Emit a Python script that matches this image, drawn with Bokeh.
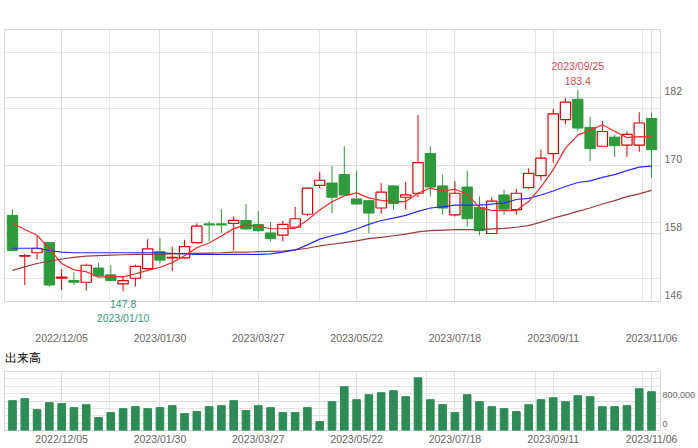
import pandas as pd
from bokeh.plotting import figure
from bokeh.layouts import column
from bokeh.models import (ColumnDataSource, FixedTicker, Range1d, Label, LinearAxis,
                          Grid, NumeralTickFormatter)
from bokeh.embed import file_html
from bokeh.resources import INLINE

# ---------------- data ----------------
first_week = "2022-11-07"

opens = [161.2, 154.0, 154.6, 156.4, 150.1, 149.7, 149.4, 151.9, 150.7, 149.1,
         150.1, 151.8, 154.8, 153.7, 153.7, 156.4, 159.7, 159.7, 159.8, 160.3,
         159.6, 158.1, 157.7, 159.1, 161.4, 166.5, 166.9, 168.4, 164.1, 163.8,
         162.5, 166.4, 164.4, 165.1, 172.1, 166.4, 161.3, 166.2, 162.6, 158.0,
         164.8, 162.2, 166.1, 168.2, 172.1, 178.1, 181.7, 176.7, 173.4, 175.0,
         173.6, 173.6, 178.3]
highs = [162.2, 154.4, 157.5, 156.5, 151.7, 151.1, 152.7, 152.8, 152.4, 150.5,
         152.5, 157.0, 157.2, 155.7, 156.9, 159.8, 160.2, 162.3, 161.0, 163.2,
         162.0, 160.0, 160.2, 162.7, 166.1, 168.9, 169.9, 173.4, 169.1, 163.9,
         166.9, 166.5, 167.1, 178.9, 173.4, 168.4, 167.2, 169.1, 164.5, 164.4,
         165.7, 165.9, 169.5, 172.8, 180.0, 181.9, 183.4, 178.6, 177.9, 175.4,
         176.0, 179.4, 179.3]
lows = [154.9, 148.9, 153.4, 148.6, 148.0, 148.9, 147.9, 150.4, 149.6, 147.8,
        148.6, 151.5, 152.7, 151.4, 153.6, 156.2, 156.6, 158.1, 155.0, 158.7,
        158.3, 156.6, 156.6, 158.9, 161.1, 166.0, 161.6, 164.7, 163.1, 158.0,
        161.5, 162.2, 162.2, 164.4, 164.5, 161.3, 161.0, 159.2, 157.7, 157.9,
        161.3, 161.3, 165.8, 167.4, 170.5, 177.3, 176.1, 170.8, 173.3, 171.5,
        171.5, 172.4, 167.9]
closes = [155.0, 154.1, 155.4, 148.9, 150.3, 149.4, 152.4, 150.5, 149.7, 149.7,
          152.2, 155.3, 153.3, 153.8, 155.7, 159.3, 159.5, 159.5, 160.3, 158.8,
          158.5, 157.1, 159.6, 160.6, 166.0, 167.4, 164.4, 164.8, 163.2, 161.6,
          165.3, 163.3, 164.8, 170.5, 166.2, 162.5, 165.1, 160.6, 158.5, 163.7,
          162.3, 165.1, 168.6, 171.3, 179.1, 181.2, 176.6, 173.0, 176.0, 173.5,
          175.5, 177.5, 172.8]

ma_short = [159.8, 158.7, 157.7, 155.3, 152.70, 151.58, 151.26, 150.28, 150.44, 150.34,
            150.90, 151.48, 152.04, 152.86, 154.06, 155.48, 156.32, 157.56, 158.86, 159.48,
            159.32, 158.84, 158.86, 158.92, 160.36, 162.14, 163.60, 164.64, 165.16, 164.28,
            163.86, 163.64, 163.64, 165.10, 166.02, 165.46, 165.82, 164.98, 162.58, 162.08,
            162.04, 162.04, 163.64, 166.20, 169.28, 173.06, 175.36, 176.24, 177.18, 176.06,
            174.92, 175.10, 175.06]
ma_mid = [155.4, 155.4, 155.4, 155.0, 154.7, 154.6, 154.6, 154.6, 154.6, 154.6,
          154.6, 154.6, 154.6, 154.5, 154.4, 154.3, 154.3, 154.3, 154.3, 154.3,
          154.3, 154.4, 154.7, 155.1, 156.0, 157.0, 157.6, 158.1, 158.8, 159.6,
          160.3, 160.7, 161.2, 161.9, 162.5, 162.7, 163.0, 163.0, 163.0, 163.2,
          163.4, 164.0, 164.2, 164.8, 165.5, 166.3, 167.0, 167.3, 167.9, 168.4,
          169.1, 169.7, 169.9]
ma_long = [151.5, 152.1, 152.7, 153.1, 153.5, 153.8, 154.0, 154.1, 154.2, 154.25,
           154.3, 154.3, 154.35, 154.4, 154.5, 154.5, 154.55, 154.6, 154.7, 154.7,
           154.8, 154.85, 154.9, 155.1, 155.4, 155.8, 156.1, 156.4, 156.7, 157.1,
           157.3, 157.6, 157.9, 158.3, 158.5, 158.6, 158.7, 158.7, 158.7, 158.8,
           158.9, 159.1, 159.4, 160.0, 160.7, 161.3, 161.9, 162.5, 163.2, 163.8,
           164.5, 165.0, 165.6]

volumes = [809000, 863000, 566000, 755000, 728000, 620000, 701000, 350000, 485000, 593000,
           647000, 593000, 620000, 674000, 458000, 512000, 647000, 674000, 809000, 539000,
           674000, 620000, 485000, 485000, 620000, 243000, 782000, 1187000, 836000, 971000,
           1025000, 1079000, 917000, 1429000, 836000, 701000, 485000, 971000, 782000, 647000,
           593000, 512000, 701000, 836000, 890000, 782000, 944000, 917000, 647000, 647000,
           674000, 1133000, 1052000]

price_range = (146, 194)
price_ticks = [146, 158, 170, 182]
price_grid = [146, 158, 170, 182, 194]
volume_range = (0, 1600000)
volume_ticks = [0, 800000]
volume_grid = [0, 800000, 1600000]
tick_every = 8
tick_first = 4
# first trading day of each labelled week
tick_labels = ["2022/12/05", "2023/01/30", "2023/03/27", "2023/05/22",
               "2023/07/18", "2023/09/11", "2023/11/06"]
high_day_label = "2023/09/25"
low_day_label = "2023/01/10"

# ---------------- styling ----------------
FONT = "Liberation Sans"
FS = "10.5px"
GRID = "#dddddd"
OUTLINE = "#d4d4d4"
LABEL = "#666666"
UP = "#e00000"
DOWN = "#2f9a3c"
VOLC = "#2e8b57"
WEEK = 7 * 24 * 3600 * 1000
MAIN_FRAME_H = 278
VOL_FRAME_H = 59
LIFT_PX = 6.5   # tick labels sit just above their grid line

dates = pd.date_range(first_week, periods=len(closes), freq="7D")
up = [c >= o for o, c in zip(opens, closes)]
df = pd.DataFrame(dict(date=dates, open=opens, high=highs, low=lows, close=closes,
                       top=[max(o, c) for o, c in zip(opens, closes)],
                       bottom=[min(o, c) for o, c in zip(opens, closes)],
                       vol=volumes, ma_s=ma_short, ma_m=ma_mid, ma_l=ma_long))
src_up = ColumnDataSource(df[up])
src_dn = ColumnDataSource(df[[not u for u in up]])
src = ColumnDataSource(df)

ms = lambda d: d.value // 10**6
x_start = dates[0] - pd.Timedelta(days=7 * 0.65)
x_end = dates[-1] + pd.Timedelta(days=7 * 0.73)
tick_dates = [ms(d) for d in dates[tick_first::tick_every]]
tick_overrides = dict(zip(tick_dates, tick_labels))


def style_axis(ax, size=FS, color=LABEL):
    ax.axis_line_color = None
    ax.major_tick_line_color = None
    ax.minor_tick_line_color = None
    ax.major_tick_out = 0
    ax.major_tick_in = 0
    ax.minor_tick_out = 0
    ax.minor_tick_in = 0
    ax.major_label_text_font = FONT
    ax.major_label_text_font_size = size
    ax.major_label_text_color = color


def lifted(lo, hi, frame_h):
    d = (hi - lo) * LIFT_PX / frame_h
    return Range1d(lo - d, hi - d)


# ---------------- price panel ----------------
p = figure(width=698, height=346, x_axis_type="datetime",
           x_axis_location=None, y_axis_location=None,
           output_backend="svg", toolbar_location=None,
           x_range=Range1d(x_start, x_end), y_range=Range1d(*price_range),
           min_border_left=4, min_border_right=36, min_border_top=29, min_border_bottom=39)
p.outline_line_color = OUTLINE
p.extra_y_ranges = {"lab": lifted(*price_range, MAIN_FRAME_H)}
p.add_layout(Grid(dimension=0, ticker=FixedTicker(ticks=tick_dates), grid_line_color=GRID))
p.add_layout(Grid(dimension=1, ticker=FixedTicker(ticks=price_grid), grid_line_color=GRID))

p.segment("date", "high", "date", "low", source=src_dn, color=DOWN, line_width=1)
p.segment("date", "high", "date", "low", source=src_up, color=UP, line_width=1)
p.vbar("date", 0.84 * WEEK, "top", "bottom", source=src_dn, fill_color=DOWN,
       line_color=DOWN)
p.vbar("date", 0.84 * WEEK, "top", "bottom", source=src_up, fill_color="white",
       line_color=UP, line_width=1.2)
p.line("date", "ma_l", source=src, color="#a23a3a", line_width=1.2)
p.line("date", "ma_m", source=src, color="#2a2aff", line_width=1.2)
p.line("date", "ma_s", source=src, color="#ff2a2a", line_width=1.2)

yax = LinearAxis(y_range_name="lab", ticker=FixedTicker(ticks=price_ticks))
style_axis(yax)
yax.major_label_standoff = 4
p.add_layout(yax, "right")

# low annotation (sits below the frame) as an axis label
i_lo = lows.index(min(lows))
lx = ms(dates[i_lo])
low_ax = LinearAxis(ticker=FixedTicker(ticks=[lx]),
                    major_label_overrides={lx: f"{lows[i_lo]}\n{low_day_label}"})
style_axis(low_ax, color="#3a9a78")
low_ax.major_label_standoff = -4
p.add_layout(low_ax, "below")

xax = LinearAxis(ticker=FixedTicker(ticks=tick_dates), major_label_overrides=tick_overrides)
style_axis(xax)
xax.major_label_standoff = 5
p.add_layout(xax, "below")

# high annotation (inside the frame)
i_hi = highs.index(max(highs))
hx = ms(dates[i_hi])
for txt, off in ((f"{highs[i_hi]}", 5), (high_day_label, 18)):
    p.add_layout(Label(x=hx, y=highs[i_hi], text=txt, y_offset=off, text_align="center",
                       text_baseline="bottom", text_font=FONT, text_font_size=FS,
                       text_color="#e04a4a"))

# ---------------- volume panel ----------------
v = figure(width=698, height=102, x_axis_type="datetime",
           x_axis_location=None, y_axis_location=None,
           output_backend="svg", toolbar_location=None,
           x_range=p.x_range, y_range=Range1d(*volume_range),
           min_border_left=4, min_border_right=36, min_border_top=25, min_border_bottom=18)
v.outline_line_color = OUTLINE
v.extra_y_ranges = {"lab": lifted(*volume_range, VOL_FRAME_H)}
v.add_layout(Grid(dimension=0, ticker=FixedTicker(ticks=tick_dates), grid_line_color=GRID))
v.add_layout(Grid(dimension=1, ticker=FixedTicker(ticks=volume_grid), grid_line_color=GRID))
v.vbar("date", 0.62 * WEEK, "vol", 0, source=src, color=VOLC)

vx = LinearAxis(ticker=FixedTicker(ticks=tick_dates), major_label_overrides=tick_overrides)
style_axis(vx)
vx.major_label_standoff = 2
v.add_layout(vx, "below")

vy = LinearAxis(y_range_name="lab", ticker=FixedTicker(ticks=volume_ticks),
                formatter=NumeralTickFormatter(format="0,0"))
style_axis(vy, size="9px")
vy.major_label_standoff = 2
v.add_layout(vy, "right")

v.title.text = "出来高"
# Latin metrics keep the title panel compact; CJK glyphs come from font fallback
v.title.text_font = "Liberation Sans"
v.title.text_font_size = "12px"
v.title.text_font_style = "normal"
v.title.text_color = "#000000"
v.title.align = "left"
v.title.vertical_align = "top"
v.title.standoff = 9

layout = column(p, v, spacing=0)
open("out.html", "w").write(file_html(layout, INLINE))
